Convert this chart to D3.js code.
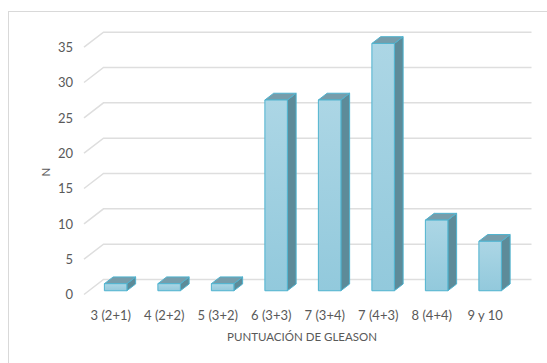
<!DOCTYPE html>
<html>
<head>
<meta charset="utf-8">
<script src="https://cdn.jsdelivr.net/npm/d3@7"></script>
<style>
  html, body { margin: 0; padding: 0; background: #fff; }
  svg { display: block; }
  text { font-family: Lato, "Open Sans", sans-serif; fill: #595959; }
</style>
</head>
<body>
<svg id="chart" width="547" height="363"></svg>
<script>
// Gleason score distribution
const categories = ["3 (2+1)", "4 (2+2)", "5 (3+2)", "6 (3+3)", "7 (3+4)", "7 (4+3)", "8 (4+4)", "9 y 10"];
const counts = [1, 1, 1, 27, 27, 35, 10, 7];
const yTicks = [0, 5, 10, 15, 20, 25, 30, 35];
const xTitle = "PUNTUACIÓN DE GLEASON";
const yTitle = "N";

const svg = d3.select("#chart");

// chart frame
svg.append("rect")
  .attr("x", 8.5).attr("y", 11.5)
  .attr("width", 600).attr("height", 400)
  .attr("fill", "#fff").attr("stroke", "#d9d9d9").attr("stroke-width", 1);

// floor geometry (oblique projection)
const X0 = 84, Y0 = 294.5, W = 428;
const depth = { dx: 19.5, dy: -15 };       // full depth of the floor
const barDepth = [0.25, 0.70];             // front and back of bars, as fraction of depth

const x = d3.scaleBand().domain(categories).range([0, W]).paddingInner(0.58).paddingOuter(0.29);
const xCenter = d3.scaleBand().domain(categories).range([0, W]);
const y = d3.scaleLinear().domain([0, 35]).range([0, 247.3]);

// project (px along width, value, depth fraction) to screen
const P = (px, v, f) => [X0 + px + depth.dx * f, Y0 - y(v) + depth.dy * f];

// gridlines: slant on the side wall, then across the back wall
const grid = svg.append("g");
yTicks.forEach(t => {
  const a = P(0, t, 0), b = P(0, t, 1), c = P(W, t, 1);
  grid.append("path")
    .attr("d", d3.line()([a, b, c]))
    .attr("fill", "none").attr("stroke", "#dedede").attr("stroke-width", 1.5);
});

// y tick labels
svg.append("g").selectAll("text").data(yTicks).join("text")
  .attr("x", 73)
  .attr("y", d => P(0, d, 0)[1])
  .attr("dy", "0.36em")
  .attr("text-anchor", "end")
  .attr("font-size", 13)
  .text(d => d);

// bars
const defs = svg.append("defs");
const grad = defs.append("linearGradient").attr("id", "front").attr("x1", 0).attr("y1", 0).attr("x2", 0).attr("y2", 1);
grad.append("stop").attr("offset", "0%").attr("stop-color", "#acd6e5");
grad.append("stop").attr("offset", "100%").attr("stop-color", "#92c9dc");

const edge = "#4fb3cf";
const bars = svg.append("g");
categories.forEach((c, i) => {
  const v = counts[i];
  const x1 = x(c), x2 = x(c) + x.bandwidth();
  const [f0, f1] = barDepth;
  const g = bars.append("g").attr("stroke", edge).attr("stroke-width", 1).attr("stroke-linejoin", "round");
  // right side face
  g.append("path")
    .attr("d", d3.line()([P(x2, 0, f0), P(x2, v, f0), P(x2, v, f1), P(x2, 0, f1)]) + "Z")
    .attr("fill", "#5d8b99");
  // top face
  g.append("path")
    .attr("d", d3.line()([P(x1, v, f0), P(x1, v, f1), P(x2, v, f1), P(x2, v, f0)]) + "Z")
    .attr("fill", "#769dab");
  // front face
  const tl = P(x1, v, f0), br = P(x2, 0, f0);
  g.append("rect")
    .attr("x", tl[0]).attr("y", tl[1])
    .attr("width", br[0] - tl[0]).attr("height", br[1] - tl[1])
    .attr("fill", "url(#front)");
});

// x tick labels
svg.append("g").selectAll("text").data(categories).join("text")
  .attr("x", d => X0 + xCenter(d) + xCenter.bandwidth() / 2)
  .attr("y", 315)
  .attr("dy", "0.36em")
  .attr("text-anchor", "middle")
  .attr("font-size", 13)
  .text(d => d);

// axis titles
svg.append("text")
  .attr("x", X0 + W / 2 + 4).attr("y", 337)
  .attr("dy", "0.36em")
  .attr("text-anchor", "middle")
  .attr("font-size", 11.5)
  .text(xTitle);

svg.append("text")
  .attr("transform", "translate(46,172) rotate(-90)")
  .attr("dy", "0.36em")
  .attr("text-anchor", "middle")
  .attr("font-size", 11.5)
  .text(yTitle);
</script>
</body>
</html>
